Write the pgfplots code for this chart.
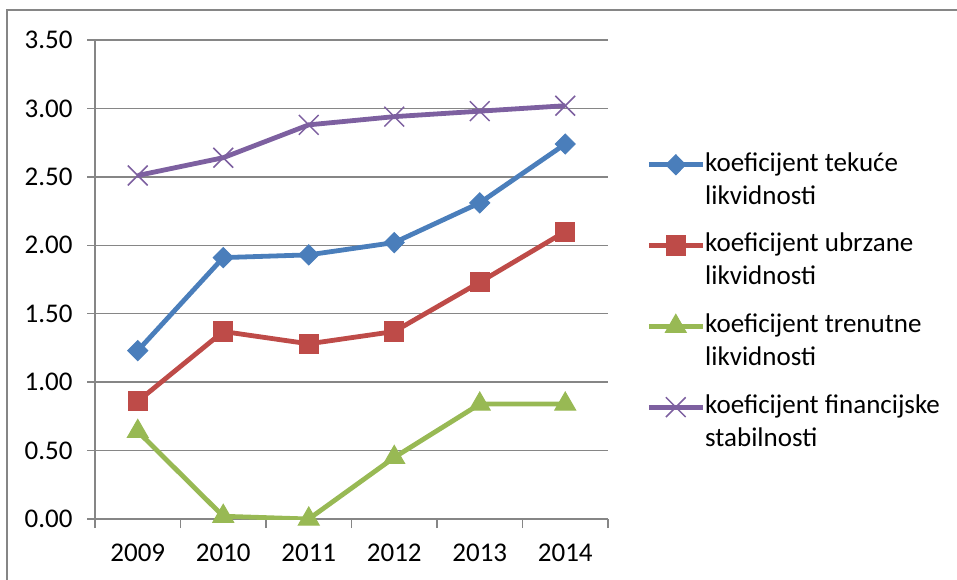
\documentclass[border=0pt]{standalone}
\usepackage{pgfplots}
\pgfplotsset{compat=1.18}
\usepackage{fontspec}
\setmainfont{Carlito}

\definecolor{gridgray}{HTML}{868686}
\definecolor{cblue}{HTML}{4A7EBB}
\definecolor{cred}{HTML}{BE4B48}
\definecolor{cgreen}{HTML}{98B954}
\definecolor{cpurple}{HTML}{7D60A0}

\begin{document}
\fontsize{13.5}{15}\selectfont
\begin{tikzpicture}[x=1pt,y=1pt]
\useasboundingbox (0,0) rectangle (478.5,289.5);
\draw[gridgray, line width=0.8pt] (3.5,-10) -- (3.5,284.5) -- (490,284.5);
\begin{axis}[
    at={(47.5pt,30pt)}, anchor=south west,
    width=256.5pt, height=239.5pt, scale only axis,
    xmin=0.5, xmax=6.5, ymin=0, ymax=3.5,
    xtick={1,...,6},
    xticklabels={2009,2010,2011,2012,2013,2014},
    minor xtick={0.5,1.5,...,6.5},
    ytick={0,0.5,...,3.5},
    /pgf/number format/assume math mode=true,
    yticklabel style={/pgf/number format/fixed,
        /pgf/number format/fixed zerofill,
        /pgf/number format/precision=2, xshift=-2.5pt},
    xticklabel style={yshift=-4pt},
    ymajorgrids,
    grid style={gridgray, line width=0.75pt},
    axis x line*=bottom, axis y line*=left,
    axis line style={gridgray, line width=0.75pt},
    tick align=outside,
    major tick length=4pt, minor tick length=4.5pt,
    tick style={gridgray, line width=0.75pt},
    major x tick style={draw=none},
    legend style={draw=none, fill=none, at={(1,1)}, anchor=north west,
        xshift=19pt, yshift=-56pt, inner sep=0pt, row sep=12.5pt,
        column sep=0pt, nodes={inner sep=0pt},
        font=\fontsize{13.5}{15}\selectfont,
        cells={anchor=base west, align=left}},
    legend image code/.code={
        \draw[#1, mark repeat=2, mark phase=2]
            plot coordinates {(0pt,19.7pt) (13.5pt,19.7pt) (27pt,19.7pt)};},
]
\addplot[cblue, line width=2.4pt, mark=diamond*, mark size=5pt,
    mark options={solid, fill=cblue, draw=cblue, line width=0.5pt, xscale=1.33}]
    coordinates {(1,1.23) (2,1.91) (3,1.93) (4,2.02) (5,2.31) (6,2.74)};
\addlegendentry{koeficijent tekuće\\[1.5pt]likvidnosti}
\addplot[cred, line width=2.4pt, mark=square*, mark size=4.8pt,
    mark options={solid, fill=cred, draw=cred, line width=0.5pt}]
    coordinates {(1,0.86) (2,1.37) (3,1.28) (4,1.37) (5,1.73) (6,2.10)};
\addlegendentry{koeficijent ubrzane\\[1.5pt]likvidnosti}
\addplot[cgreen, line width=2.4pt, mark=triangle*, mark size=6pt,
    mark options={solid, fill=cgreen, draw=cgreen, line width=0.5pt}]
    coordinates {(1,0.64) (2,0.02) (3,0.00) (4,0.45) (5,0.84) (6,0.84)};
\addlegendentry{koeficijent trenutne\\[1.5pt]likvidnosti}
\addplot[cpurple, line width=2.4pt, mark=x, mark size=7pt,
    mark options={solid, draw=cpurple, line width=0.75pt}]
    coordinates {(1,2.51) (2,2.64) (3,2.88) (4,2.94) (5,2.98) (6,3.02)};
\addlegendentry{koeficijent financijske\\[1.5pt]stabilnosti}
\end{axis}
\end{tikzpicture}
\end{document}
